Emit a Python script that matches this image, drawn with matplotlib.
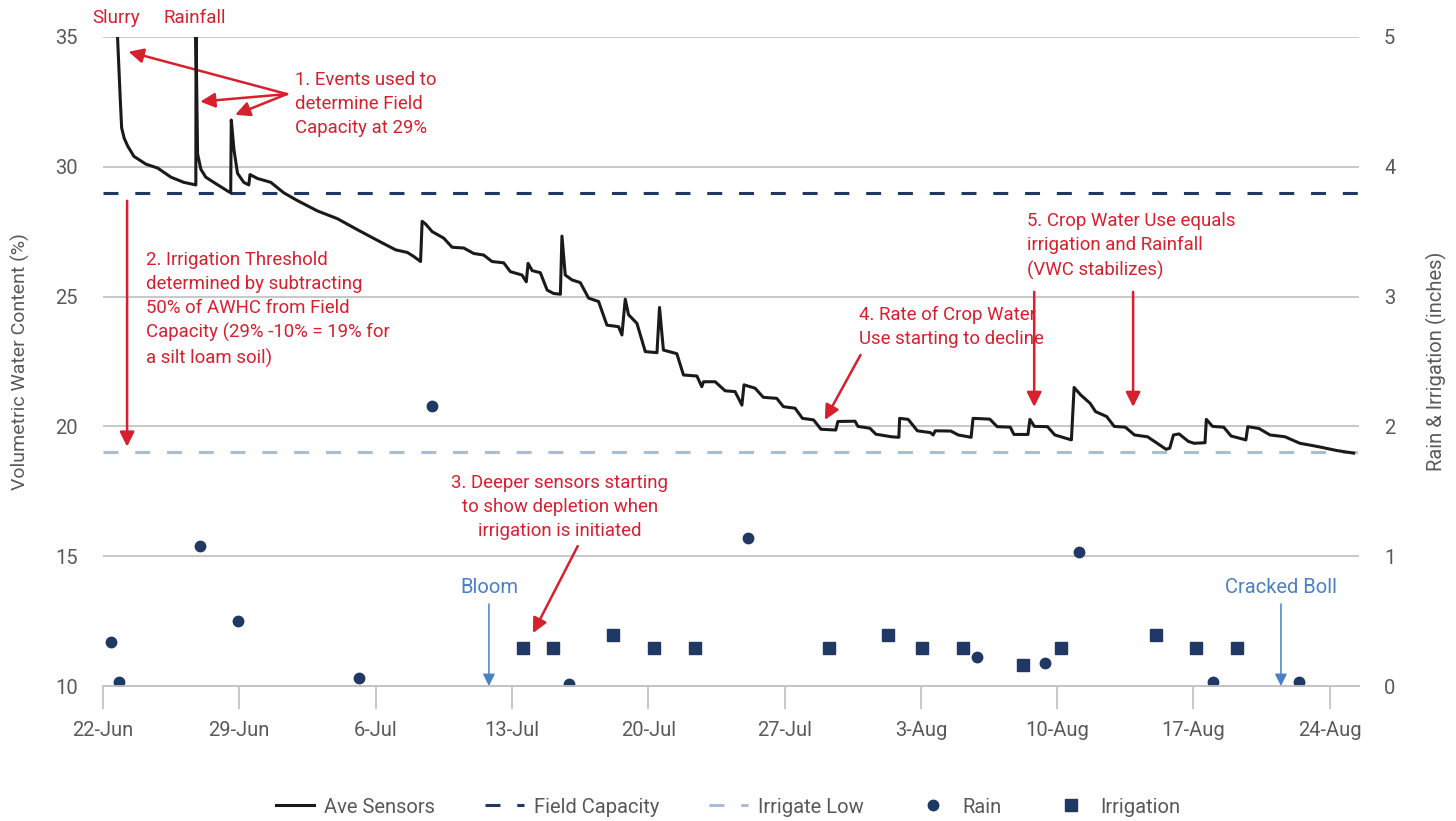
import numpy as np
import pandas as pd
import matplotlib
matplotlib.use("Agg")
import matplotlib.pyplot as plt

plt.rcParams["font.family"] = ["Roboto", "DejaVu Sans"]

# data (days after 22-Jun)
start = pd.Timestamp("2019-06-22")

sensor_day = [0.75, 0.89, 0.96, 1.09, 1.27, 1.59, 2.21, 2.81, 3.49, 4.15,
              4.77, 4.78, 4.86, 5.03, 5.28, 5.69, 6.39, 6.56, 6.59, 6.73,
              6.91, 7.23, 7.49, 7.55, 7.93, 8.62, 9.28, 9.98, 11.01, 12.04,
              13.13, 14.26,
              15.03, 15.63, 15.95, 16.31, 16.39, 16.56, 16.91, 17.5, 17.93, 18.53,
              19.04, 19.55, 19.98, 20.58, 20.92, 21.52, 21.74, 21.83, 22.04, 22.46,
              22.81, 23.14, 23.49, 23.57, 23.74, 24.09, 24.51, 24.94, 25.45, 25.88,
              26.48, 26.65, 26.82, 26.99, 27.42, 27.85, 28.45, 28.58, 28.78, 29.47,
              29.81, 30.5, 30.75, 30.84, 31.44, 31.95, 32.46, 32.81, 32.92, 33.49,
              33.91, 34.6, 34.94, 35.54, 35.92, 36.49, 36.87, 37.63, 37.74,
              38.62, 38.77, 39.38, 39.69, 40.49, 40.87, 40.91, 41.35, 41.82, 42.49,
              42.63, 42.74, 43.54, 43.92, 44.58, 44.68, 45.54, 45.92, 46.59, 46.78,
              47.5, 47.6, 47.83, 48.5, 48.88, 49.73, 49.87, 50.21, 50.69, 50.97,
              51.54, 51.93, 52.5, 52.97, 53.64, 54.59, 54.78, 54.97, 55.26, 55.74,
              56.03, 56.59, 56.66, 56.98, 57.55, 57.93, 58.69, 58.79, 59.36, 59.93,
              60.7, 61.46, 62.41, 63.36, 64.22]
sensor_vwc = [35.0, 32.6, 31.5, 31.1, 30.8, 30.4, 30.1, 29.95, 29.6, 29.4,
              29.3, 35.0, 30.5, 29.9, 29.6, 29.4, 29.07, 29.0, 31.8, 30.65,
              29.75, 29.4, 29.3, 29.7, 29.55, 29.4, 29.0, 28.7, 28.3, 28.0,
              27.55, 27.1,
              26.8, 26.7, 26.55, 26.35, 27.9, 27.8, 27.5, 27.25, 26.9, 26.87,
              26.66, 26.6, 26.35, 26.3, 25.96, 25.83, 25.57, 26.28, 26.0, 25.92,
              25.25, 25.12, 25.09, 27.33, 25.83, 25.64, 25.54, 24.94, 24.81, 23.9,
              23.84, 23.52, 24.9, 24.3, 23.97, 22.88, 22.84, 24.58, 22.94, 22.8,
              21.98, 21.94, 21.53, 21.72, 21.72, 21.37, 21.34, 20.82, 21.6, 21.47,
              21.12, 21.08, 20.76, 20.7, 20.31, 20.25, 19.89, 19.86, 20.19,
              20.2, 20.0, 19.93, 19.7, 19.6, 19.58, 20.31, 20.27, 19.83, 19.76,
              19.67, 19.83, 19.82, 19.67, 19.58, 20.31, 20.28, 19.99, 19.97, 19.69,
              19.69, 20.27, 20.0, 19.99, 19.67, 19.48, 21.5, 21.21, 20.89, 20.57,
              20.38, 20.0, 19.97, 19.67, 19.6, 19.12, 19.16, 19.67, 19.71, 19.42,
              19.35, 19.37, 20.27, 20.0, 19.97, 19.63, 19.48, 19.99, 19.92, 19.67,
              19.6, 19.35, 19.22, 19.07, 18.97]

rain_day = [0.41, 0.83, 4.98, 6.96, 13.13, 16.9, 23.92, 33.12, 44.9, 48.36, 50.12, 57.02, 61.42]
rain_in = [0.34, 0.03, 1.08, 0.5, 0.06, 2.16, 0.015, 1.14, 0.22, 0.18, 1.03, 0.03, 0.03]

irr_day = [21.56, 23.09, 26.17, 28.28, 30.39, 37.26, 40.29, 42.06, 44.15, 47.23, 49.21, 54.08, 56.15, 58.22]
irr_in = [0.29, 0.29, 0.39, 0.29, 0.29, 0.29, 0.39, 0.29, 0.29, 0.16, 0.29, 0.39, 0.29, 0.29]

field_capacity = 29
irrigate_low = 19

tick_labels = ["22-Jun", "29-Jun", "6-Jul", "13-Jul", "20-Jul", "27-Jul", "3-Aug", "10-Aug", "17-Aug", "24-Aug"]


def d(days):
    return start + pd.to_timedelta(np.asarray(days, dtype=float), unit="D")


navy = "#1f3864"
light = "#a9bdd8"
red = "#d7202e"
blue = "#4a80c4"
grey = "#595959"

fig = plt.figure(figsize=(14.56, 8.21), dpi=100)
ax = fig.add_axes([0.0707, 0.1644, 0.8627, 0.7906])
ax2 = ax.twinx()

ax.plot(d(sensor_day), sensor_vwc, color="#1a1a1a", lw=2.2, label="Ave Sensors", zorder=5)
ax.axhline(field_capacity, color=navy, lw=2.2, dashes=(4.9, 5.5), label="Field Capacity", zorder=3)
ax.axhline(irrigate_low, color=light, lw=2.2, dashes=(4.9, 5.5), label="Irrigate Low", zorder=3)
ax2.plot(d(rain_day), rain_in, "o", color=navy, ms=7.5, label="Rain")
ax2.plot(d(irr_day), irr_in, "s", color=navy, ms=8, label="Irrigation")

ax.set_ylim(10, 35)
ax2.set_ylim(0, 5)
ax.set_xlim(d(0), d(64.5))
ax.set_yticks(range(10, 36, 5))
ax2.set_yticks(range(0, 6))
ax.set_xticks(d(np.arange(0, 64, 7)))
ax.set_xticklabels(tick_labels)
ax.grid(axis="y", color="#c4c4c4", lw=1.3)
ax.set_axisbelow(True)

for a in (ax, ax2):
    for s in ("top", "left", "right"):
        a.spines[s].set_visible(False)
    a.spines["bottom"].set_color("#c4c4c4")
    a.spines["bottom"].set_linewidth(1.3)
ax.tick_params(axis="x", length=16.5, width=1.3, color="#c4c4c4", pad=9, labelsize=14.5, labelcolor=grey)
ax.tick_params(axis="y", length=0, pad=18, labelsize=14.5, labelcolor=grey)
ax2.tick_params(axis="y", length=0, pad=18, labelsize=14.5, labelcolor=grey)

ax.set_ylabel("Volumetric Water Content (%)", fontsize=14, color=grey, labelpad=18)
ax2.set_ylabel("Rain & Irrigation (inches)", fontsize=14.5, color=grey, labelpad=22)

# annotations
fs = 13.4
ls = 1.42
arrow_red = dict(arrowstyle="-|>", color=red, lw=1.8, mutation_scale=22, shrinkA=0, shrinkB=0)
arrow_blue = dict(arrowstyle="-|>", color=blue, lw=1.1, mutation_scale=18, shrinkA=0, shrinkB=0)

ax.text(d(0.69), 35.73, "Slurry", color=red, fontsize=13.5, ha="center", va="center", clip_on=False)
ax.text(d(4.74), 35.73, "Rainfall", color=red, fontsize=13.5, ha="center", va="center", clip_on=False)

ax.text(d(9.87), 32.42, "1. Events used to\ndetermine Field\nCapacity at 29%", color=red,
        fontsize=fs, ha="left", va="center", linespacing=ls)
for tip in [(1.32, 34.43), (5.0, 32.51), (6.79, 32.0)]:
    ax.annotate("", xy=(d(tip[0]), tip[1]), xytext=(d(9.45), 32.8), arrowprops=arrow_red)

ax.text(d(2.23), 24.51, "2. Irrigation Threshold\ndetermined by subtracting\n50% of AWHC from Field\n"
        "Capacity (29% -10% = 19% for\na silt loam soil)", color=red, fontsize=fs,
        ha="left", va="center", linespacing=ls)
ax.annotate("", xy=(d(1.24), 19.22), xytext=(d(1.24), 28.69), arrowprops=arrow_red)

ax.text(d(23.46), 16.9, "3. Deeper sensors starting\nto show depletion when\nirrigation is initiated",
        color=red, fontsize=fs, ha="center", va="center", linespacing=ls)
ax.annotate("", xy=(d(22.08), 12.04), xytext=(d(24.38), 15.39), arrowprops=arrow_red)

ax.text(d(38.8), 23.83, "4. Rate of Crop Water\nUse starting to decline", color=red,
        fontsize=fs, ha="left", va="center", linespacing=ls)
ax.annotate("", xy=(d(37.07), 20.25), xytext=(d(38.9), 22.75), arrowprops=arrow_red)

ax.text(d(47.46), 26.95, "5. Crop Water Use equals\nirrigation and Rainfall\n(VWC stabilizes)", color=red,
        fontsize=fs, ha="left", va="center", linespacing=ls)
for xd in (47.82, 52.9):
    ax.annotate("", xy=(d(xd), 20.75), xytext=(d(xd), 25.18), arrowprops=arrow_red)

ax.text(d(19.82), 13.81, "Bloom", color=blue, fontsize=14.5, ha="center", va="center")
ax.annotate("", xy=(d(19.82), 10.0), xytext=(d(19.82), 13.16), arrowprops=arrow_blue)
ax.text(d(60.49), 13.81, "Cracked Boll", color=blue, fontsize=14.5, ha="center", va="center")
ax.annotate("", xy=(d(60.49), 10.0), xytext=(d(60.49), 13.16), arrowprops=arrow_blue)

h1, l1 = ax.get_legend_handles_labels()
h2, l2 = ax2.get_legend_handles_labels()
leg = fig.legend(h1 + h2, l1 + l2, loc="center", bbox_to_anchor=(0.5, 0.017), ncol=5,
                 frameon=False, fontsize=14.5, handlelength=1.9, handletextpad=0.5,
                 columnspacing=2.5)
for t in leg.get_texts():
    t.set_color(grey)

fig.savefig("out.png", dpi=100)
